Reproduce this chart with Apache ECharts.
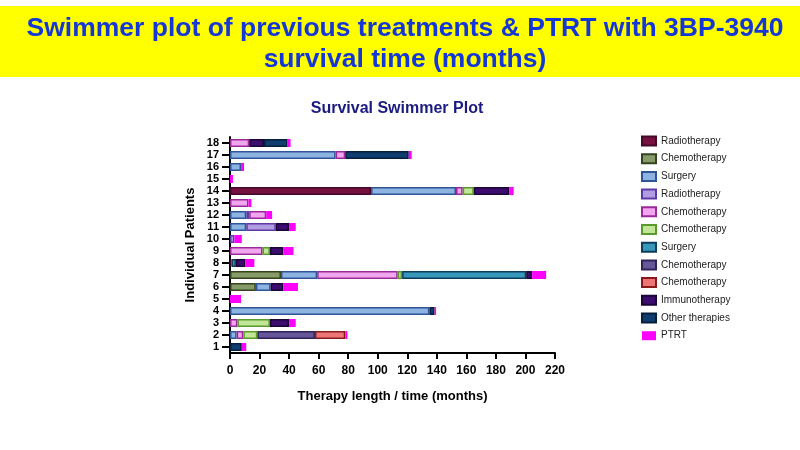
<!DOCTYPE html>
<html>
<head>
<meta charset="utf-8">
<title>Survival Swimmer Plot</title>
<script src="https://cdn.jsdelivr.net/npm/echarts@6/dist/echarts.min.js"></script>
<style>
  html, body { margin: 0; padding: 0; background: #fff; }
  #chart { width: 800px; height: 450px; }
</style>
</head>
<body>
<div id="chart"></div>
<script>
// patients 1..18 (bottom to top)
var patients = ['1','2','3','4','5','6','7','8','9','10','11','12','13','14','15','16','17','18'];

// segment lengths in months, one value per patient, stacked in legend order
var radiotherapyA  = [0,0,0,0,0,0,0,1,0,0,0,0,0,95.5,0,0,0,0];
var chemotherapyA  = [0,0,0,0,0,17.5,34.5,0,0,0,0,0,0,0,0,0,0,0];
var surgeryA       = [0,4.5,0,135,0,10,24.5,0,0,0,11,11,0,57.5,0,7.5,71.5,0];
var radiotherapyB  = [0,0,0,0,0,0,0,0,0,3,20,2,0,0,0,0,0,0];
var chemotherapyB  = [0,4.5,5,0,0,0,54.5,0,22,0,0,11.5,12.5,4.5,0,0,6.5,13];
var chemotherapyC  = [0,9.5,22,0,0,0,3,0,5,0,0,0,0,7.5,0,0,0,0];
var surgeryB       = [0,0,0,0,0,0,84,3,0,0,0,0,0,0,0,0,0,0];
var chemotherapyD  = [0,39,0,0,0,0,0,0,0,0,0,0,0,0,0,0,0,0];
var chemotherapyE  = [0,20.5,0,0,0,0,0,0,0,0,0,0,0,0,0,0,0,0];
var immunotherapy  = [0,0,13,0,0,8.5,4,6.5,9,0,9,0,0,24,0,0,0,10];
var otherTherapies = [8,0,0,3.5,0,0,0,0,0,0,0,0,0,0,0,0,43,16];
var ptrt           = [3,1.5,4.5,1,7.5,10,9.5,6,7,5,4.5,4,2,3,2,2,2,2];

var xTicks = [0, 220, 20]; // min, max, interval

var segs = [
  ['Radiotherapy#1', radiotherapyA, '#76103f', '#45082a'],
  ['Chemotherapy#2', chemotherapyA, '#879b68', '#34431f'],
  ['Surgery#3', surgeryA, '#8db3e2', '#2f5597'],
  ['Radiotherapy#4', radiotherapyB, '#b29ce2', '#5e3aa6'],
  ['Chemotherapy#5', chemotherapyB, '#f2a6ee', '#9a2a9a'],
  ['Chemotherapy#6', chemotherapyC, '#c2e698', '#5a9a2a'],
  ['Surgery#7', surgeryB, '#3898bc', '#0d3d5a'],
  ['Chemotherapy#8', chemotherapyD, '#66579a', '#2e2258'],
  ['Chemotherapy#9', chemotherapyE, '#ec7676', '#8a1a1a'],
  ['Immunotherapy', immunotherapy, '#3c0c6e', '#1a0535'],
  ['Other therapies', otherTherapies, '#0f3d70', '#061f3c'],
  ['PTRT', ptrt, '#ff00ff', '#ff00ff']
];

var series = segs.map(function (s) {
  return {
    name: s[0],
    type: 'bar',
    stack: 'swim',
    barWidth: 8,
    data: s[1].map(function (v) { return v === 0 ? '-' : v; }),
    itemStyle: { color: s[2], borderColor: s[3], borderWidth: s[0] === 'PTRT' ? 0 : 1.5 }
  };
});

var chart = echarts.init(document.getElementById('chart'));
chart.setOption({
  animation: false,
  graphic: [{
    type: 'rect',
    shape: { x: 0, y: 6, width: 800, height: 71 },
    style: { fill: '#ffff00' },
    z: -1
  }],
  title: [{
    text: 'Swimmer plot of previous treatments & PTRT with 3BP-3940\nsurvival time (months)',
    left: 400, top: 8, textAlign: 'center',
    textStyle: { fontFamily: 'Liberation Sans', fontSize: 26.5, fontWeight: 'bold', color: '#1537d6', lineHeight: 31 }
  }, {
    text: 'Survival Swimmer Plot',
    left: 392, top: 96, textAlign: 'center',
    textStyle: { fontFamily: 'Liberation Sans', fontSize: 16, fontWeight: 'bold', color: '#1a1a80' }
  }],
  legend: {
    orient: 'vertical',
    left: 636, top: 130,
    icon: 'rect',
    itemWidth: 14, itemHeight: 9,
    itemGap: 5.7,
    selectedMode: false,
    formatter: function (name) { return name.split('#')[0]; },
    textStyle: { fontFamily: 'Liberation Sans', fontSize: 10, color: '#222', lineHeight: 12 },
    data: segs.map(function (s) { return s[0]; })
  },
  grid: { left: 230, right: 245, top: 137, height: 216, containLabel: false },
  xAxis: {
    type: 'value',
    min: xTicks[0], max: xTicks[1], interval: xTicks[2],
    name: 'Therapy length / time (months)',
    nameLocation: 'middle', nameGap: 37,
    nameTextStyle: { fontFamily: 'Liberation Sans', fontSize: 13, fontWeight: 'bold', color: '#000' },
    axisLine: { show: true, lineStyle: { color: '#000', width: 2 } },
    axisTick: { show: true, length: 6, lineStyle: { color: '#000', width: 2 } },
    axisLabel: { fontFamily: 'Liberation Sans', fontSize: 12, fontWeight: 'bold', color: '#000', margin: 12 },
    splitLine: { show: false }
  },
  yAxis: {
    type: 'category',
    data: patients,
    name: 'Individual Patients',
    nameLocation: 'middle', nameGap: 33, nameRotate: 90,
    nameTextStyle: { fontFamily: 'Liberation Sans', fontSize: 13, fontWeight: 'bold', color: '#000' },
    axisLine: { show: true, lineStyle: { color: '#000', width: 2 } },
    axisTick: { show: true, alignWithLabel: true, interval: 0, length: 8, lineStyle: { color: '#000', width: 2 } },
    axisLabel: { interval: 0, fontFamily: 'Liberation Sans', fontSize: 11, fontWeight: 'bold', color: '#000', margin: 11 }
  },
  series: series
});
</script>
</body>
</html>
